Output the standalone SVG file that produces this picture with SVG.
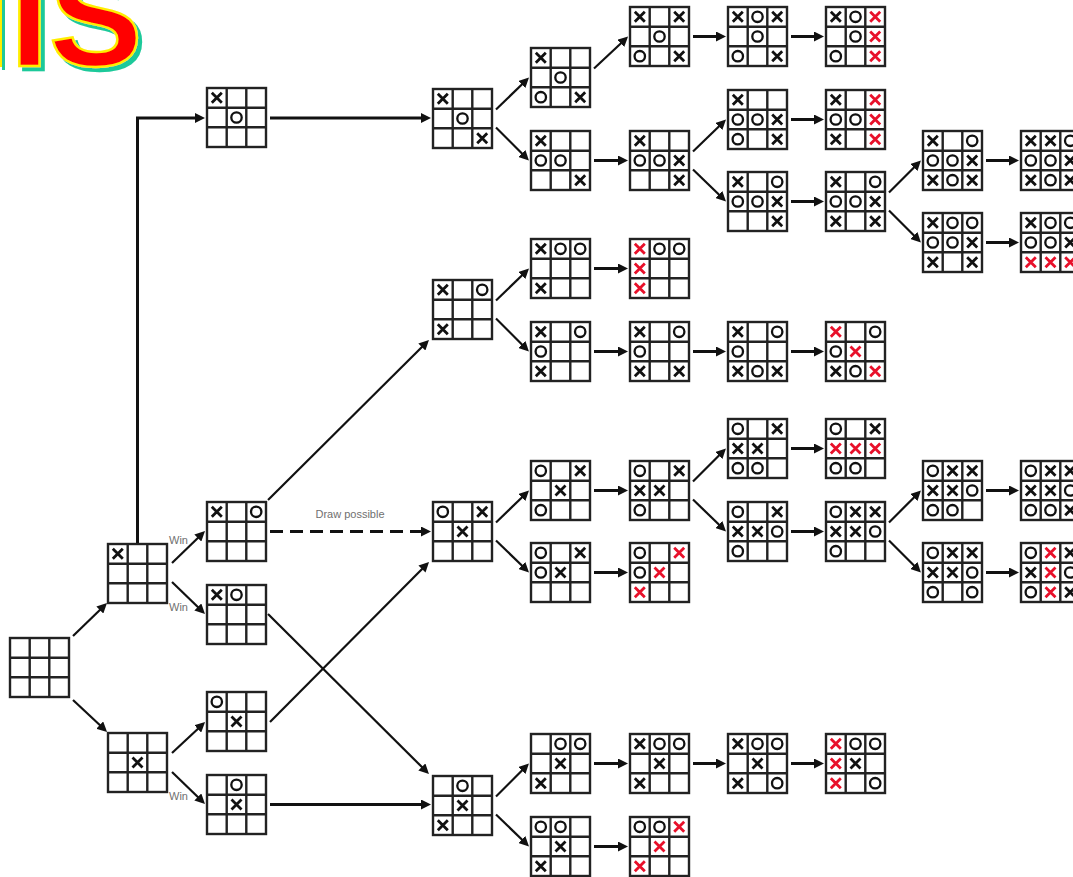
<svg xmlns="http://www.w3.org/2000/svg" xmlns:xlink="http://www.w3.org/1999/xlink" width="1073" height="877" viewBox="0 0 1073 877">
<style>
.grid{stroke:#222;stroke-width:2.4}
.bd{stroke:#111;fill:none}
.bd use.r{stroke:#e8102a}
.h{stroke:#111;stroke-width:3;fill:none;marker-end:url(#ah)}
.d{stroke:#111;stroke-width:2.2;fill:none;marker-end:url(#ah)}
.dash{stroke-dasharray:13,7}
.lbl{font-family:"Liberation Sans",Arial,sans-serif;font-size:11px;fill:#707070}
</style>
<defs>
<filter id="shadow" x="-10%" y="-10%" width="130%" height="130%">
<feOffset in="SourceAlpha" dx="4" dy="4" result="off"/>
<feFlood flood-color="#1fc99a"/>
<feComposite in2="off" operator="in" result="sh"/>
<feMerge><feMergeNode in="sh"/><feMergeNode in="SourceGraphic"/></feMerge>
</filter>
<marker id="ah" markerUnits="userSpaceOnUse" markerWidth="10" markerHeight="10" viewBox="0 0 10 10" refX="4" refY="5" orient="auto"><path d="M0,0L10,5L0,10z" fill="#111" stroke="none"/></marker>
<g id="grid" class="grid"><rect x="0" y="0" width="59" height="59" fill="#fff"/><path d="M19.7,0V59M39.3,0V59M0,19.7H59M0,39.3H59" fill="none"/></g>
<path id="X" d="M-5,-5L5,5M5,-5L-5,5" stroke-width="2.8" fill="none"/>
<circle id="O" r="5.2" stroke-width="2.3" fill="none"/>
</defs>
<rect width="1073" height="877" fill="#fff"/>
<g id="title" font-family="'Liberation Sans',Arial,sans-serif" font-weight="bold" font-size="140">
<rect x="2" y="-5" width="3" height="75" fill="#1fc99a"/>
<rect x="0" y="-5" width="2" height="72" fill="#ffee00"/>
<text x="10" y="66" fill="#ff0000" stroke="#ffee00" stroke-width="2.5" filter="url(#shadow)">IS</text>
</g>
<g id="connectors">
<path class="h" d="M137.5,543V118H199"/>
<path class="h" d="M270,118H425"/>
<path class="h" d="M270,804.5H425"/>
<path class="h dash" d="M270,531.5H425"/>
<path class="d" d="M73,636L102.7,607.2"/>
<path class="d" d="M73,700L102.7,727.8"/>
<path class="d" d="M172,563L200.7,535.2"/>
<path class="d" d="M172,582L200.7,609.8"/>
<path class="d" d="M172,753L200.7,726.2"/>
<path class="d" d="M172,772L200.7,799.8"/>
<path class="d" d="M268,500L424.7,344.2"/>
<path class="d" d="M268,614L424.7,769.8"/>
<path class="d" d="M270,722L424.8,566.2"/>
<path class="d" d="M496,109.5L524.7,81.7"/>
<path class="d" d="M496,127.5L524.7,156.3"/>
<path class="d" d="M496,300.5L524.7,272.7"/>
<path class="d" d="M496,318.5L524.7,347.3"/>
<path class="d" d="M496,522.5L524.7,494.7"/>
<path class="d" d="M496,540.5L524.7,568.3"/>
<path class="d" d="M496,796.5L524.7,767.7"/>
<path class="d" d="M496,814.5L524.7,842.3"/>
<path class="d" d="M594,68.5L623.7,40.7"/>
<path class="d" d="M693,151.5L721.7,123.7"/>
<path class="d" d="M693,169.5L721.7,197.3"/>
<path class="d" d="M693,481.5L721.7,452.7"/>
<path class="d" d="M693,499.5L721.7,527.3"/>
<path class="d" d="M889,192.5L916.7,164.7"/>
<path class="d" d="M889,210.5L916.7,238.3"/>
<path class="d" d="M889,522.5L916.7,494.7"/>
<path class="d" d="M889,540.5L916.7,568.3"/>
<path class="h" d="M594,160.5H622"/>
<path class="h" d="M594,268.5H622"/>
<path class="h" d="M594,351.5H622"/>
<path class="h" d="M594,490.5H622"/>
<path class="h" d="M594,572.5H622"/>
<path class="h" d="M594,763.5H622"/>
<path class="h" d="M594,846.5H622"/>
<path class="h" d="M693,36.5H720"/>
<path class="h" d="M693,351.5H720"/>
<path class="h" d="M693,763.5H720"/>
<path class="h" d="M791,36.5H818"/>
<path class="h" d="M791,119.5H818"/>
<path class="h" d="M791,201.5H818"/>
<path class="h" d="M791,351.5H818"/>
<path class="h" d="M791,448.5H818"/>
<path class="h" d="M791,531.5H818"/>
<path class="h" d="M791,763.5H818"/>
<path class="h" d="M986,160.5H1013"/>
<path class="h" d="M986,242.5H1013"/>
<path class="h" d="M986,490.5H1013"/>
<path class="h" d="M986,572.5H1013"/>
</g>
<g id="labels" class="lbl">
<text x="169" y="544">Win</text>
<text x="169" y="611">Win</text>
<text x="169" y="800">Win</text>
<text x="350" y="518" text-anchor="middle">Draw possible</text>
</g>
<g id="n0" class="bd" transform="translate(10,638)"><use href="#grid"/></g>
<g id="n1a" class="bd" transform="translate(108,544)"><use href="#grid"/><use href="#X" x="9.8" y="9.8"/></g>
<g id="n1b" class="bd" transform="translate(108,733)"><use href="#grid"/><use href="#X" x="29.5" y="29.5"/></g>
<g id="n2top" class="bd" transform="translate(207,88)"><use href="#grid"/><use href="#X" x="9.8" y="9.8"/><use href="#O" x="29.5" y="29.5"/></g>
<g id="n2a" class="bd" transform="translate(207,502)"><use href="#grid"/><use href="#X" x="9.8" y="9.8"/><use href="#O" x="49.2" y="9.8"/></g>
<g id="n2b" class="bd" transform="translate(207,585)"><use href="#grid"/><use href="#X" x="9.8" y="9.8"/><use href="#O" x="29.5" y="9.8"/></g>
<g id="n2c" class="bd" transform="translate(207,692)"><use href="#grid"/><use href="#O" x="9.8" y="9.8"/><use href="#X" x="29.5" y="29.5"/></g>
<g id="n2d" class="bd" transform="translate(207,775)"><use href="#grid"/><use href="#O" x="29.5" y="9.8"/><use href="#X" x="29.5" y="29.5"/></g>
<g id="n3a" class="bd" transform="translate(433,89)"><use href="#grid"/><use href="#X" x="9.8" y="9.8"/><use href="#O" x="29.5" y="29.5"/><use href="#X" x="49.2" y="49.2"/></g>
<g id="n3b" class="bd" transform="translate(433,280)"><use href="#grid"/><use href="#X" x="9.8" y="9.8"/><use href="#O" x="49.2" y="9.8"/><use href="#X" x="9.8" y="49.2"/></g>
<g id="n3c" class="bd" transform="translate(433,502)"><use href="#grid"/><use href="#O" x="9.8" y="9.8"/><use href="#X" x="49.2" y="9.8"/><use href="#X" x="29.5" y="29.5"/></g>
<g id="n3d" class="bd" transform="translate(433,776)"><use href="#grid"/><use href="#O" x="29.5" y="9.8"/><use href="#X" x="29.5" y="29.5"/><use href="#X" x="9.8" y="49.2"/></g>
<g id="n4a" class="bd" transform="translate(531,48)"><use href="#grid"/><use href="#X" x="9.8" y="9.8"/><use href="#O" x="29.5" y="29.5"/><use href="#O" x="9.8" y="49.2"/><use href="#X" x="49.2" y="49.2"/></g>
<g id="n4b" class="bd" transform="translate(531,131)"><use href="#grid"/><use href="#X" x="9.8" y="9.8"/><use href="#O" x="9.8" y="29.5"/><use href="#O" x="29.5" y="29.5"/><use href="#X" x="49.2" y="49.2"/></g>
<g id="n4c" class="bd" transform="translate(531,239)"><use href="#grid"/><use href="#X" x="9.8" y="9.8"/><use href="#O" x="29.5" y="9.8"/><use href="#O" x="49.2" y="9.8"/><use href="#X" x="9.8" y="49.2"/></g>
<g id="n4d" class="bd" transform="translate(531,322)"><use href="#grid"/><use href="#X" x="9.8" y="9.8"/><use href="#O" x="49.2" y="9.8"/><use href="#O" x="9.8" y="29.5"/><use href="#X" x="9.8" y="49.2"/></g>
<g id="n4e" class="bd" transform="translate(531,461)"><use href="#grid"/><use href="#O" x="9.8" y="9.8"/><use href="#X" x="49.2" y="9.8"/><use href="#X" x="29.5" y="29.5"/><use href="#O" x="9.8" y="49.2"/></g>
<g id="n4f" class="bd" transform="translate(531,543)"><use href="#grid"/><use href="#O" x="9.8" y="9.8"/><use href="#X" x="49.2" y="9.8"/><use href="#O" x="9.8" y="29.5"/><use href="#X" x="29.5" y="29.5"/></g>
<g id="n4g" class="bd" transform="translate(531,734)"><use href="#grid"/><use href="#O" x="29.5" y="9.8"/><use href="#O" x="49.2" y="9.8"/><use href="#X" x="29.5" y="29.5"/><use href="#X" x="9.8" y="49.2"/></g>
<g id="n4h" class="bd" transform="translate(531,817)"><use href="#grid"/><use href="#O" x="9.8" y="9.8"/><use href="#O" x="29.5" y="9.8"/><use href="#X" x="29.5" y="29.5"/><use href="#X" x="9.8" y="49.2"/></g>
<g id="n5a" class="bd" transform="translate(630,7)"><use href="#grid"/><use href="#X" x="9.8" y="9.8"/><use href="#X" x="49.2" y="9.8"/><use href="#O" x="29.5" y="29.5"/><use href="#O" x="9.8" y="49.2"/><use href="#X" x="49.2" y="49.2"/></g>
<g id="n5b" class="bd" transform="translate(630,131)"><use href="#grid"/><use href="#X" x="9.8" y="9.8"/><use href="#O" x="9.8" y="29.5"/><use href="#O" x="29.5" y="29.5"/><use href="#X" x="49.2" y="29.5"/><use href="#X" x="49.2" y="49.2"/></g>
<g id="n5c" class="bd" transform="translate(630,239)"><use href="#grid"/><use href="#X" class="r" x="9.8" y="9.8"/><use href="#O" x="29.5" y="9.8"/><use href="#O" x="49.2" y="9.8"/><use href="#X" class="r" x="9.8" y="29.5"/><use href="#X" class="r" x="9.8" y="49.2"/></g>
<g id="n5d" class="bd" transform="translate(630,322)"><use href="#grid"/><use href="#X" x="9.8" y="9.8"/><use href="#O" x="49.2" y="9.8"/><use href="#O" x="9.8" y="29.5"/><use href="#X" x="9.8" y="49.2"/><use href="#X" x="49.2" y="49.2"/></g>
<g id="n5e" class="bd" transform="translate(630,461)"><use href="#grid"/><use href="#O" x="9.8" y="9.8"/><use href="#X" x="49.2" y="9.8"/><use href="#X" x="9.8" y="29.5"/><use href="#X" x="29.5" y="29.5"/><use href="#O" x="9.8" y="49.2"/></g>
<g id="n5f" class="bd" transform="translate(630,543)"><use href="#grid"/><use href="#O" x="9.8" y="9.8"/><use href="#X" class="r" x="49.2" y="9.8"/><use href="#O" x="9.8" y="29.5"/><use href="#X" class="r" x="29.5" y="29.5"/><use href="#X" class="r" x="9.8" y="49.2"/></g>
<g id="n5g" class="bd" transform="translate(630,734)"><use href="#grid"/><use href="#X" x="9.8" y="9.8"/><use href="#O" x="29.5" y="9.8"/><use href="#O" x="49.2" y="9.8"/><use href="#X" x="29.5" y="29.5"/><use href="#X" x="9.8" y="49.2"/></g>
<g id="n5h" class="bd" transform="translate(630,817)"><use href="#grid"/><use href="#O" x="9.8" y="9.8"/><use href="#O" x="29.5" y="9.8"/><use href="#X" class="r" x="49.2" y="9.8"/><use href="#X" class="r" x="29.5" y="29.5"/><use href="#X" class="r" x="9.8" y="49.2"/></g>
<g id="n6a" class="bd" transform="translate(728,7)"><use href="#grid"/><use href="#X" x="9.8" y="9.8"/><use href="#O" x="29.5" y="9.8"/><use href="#X" x="49.2" y="9.8"/><use href="#O" x="29.5" y="29.5"/><use href="#O" x="9.8" y="49.2"/><use href="#X" x="49.2" y="49.2"/></g>
<g id="n6b" class="bd" transform="translate(728,90)"><use href="#grid"/><use href="#X" x="9.8" y="9.8"/><use href="#O" x="9.8" y="29.5"/><use href="#O" x="29.5" y="29.5"/><use href="#X" x="49.2" y="29.5"/><use href="#O" x="9.8" y="49.2"/><use href="#X" x="49.2" y="49.2"/></g>
<g id="n6c" class="bd" transform="translate(728,172)"><use href="#grid"/><use href="#X" x="9.8" y="9.8"/><use href="#O" x="49.2" y="9.8"/><use href="#O" x="9.8" y="29.5"/><use href="#O" x="29.5" y="29.5"/><use href="#X" x="49.2" y="29.5"/><use href="#X" x="49.2" y="49.2"/></g>
<g id="n6d" class="bd" transform="translate(728,322)"><use href="#grid"/><use href="#X" x="9.8" y="9.8"/><use href="#O" x="49.2" y="9.8"/><use href="#O" x="9.8" y="29.5"/><use href="#X" x="9.8" y="49.2"/><use href="#O" x="29.5" y="49.2"/><use href="#X" x="49.2" y="49.2"/></g>
<g id="n6e" class="bd" transform="translate(728,419)"><use href="#grid"/><use href="#O" x="9.8" y="9.8"/><use href="#X" x="49.2" y="9.8"/><use href="#X" x="9.8" y="29.5"/><use href="#X" x="29.5" y="29.5"/><use href="#O" x="9.8" y="49.2"/><use href="#O" x="29.5" y="49.2"/></g>
<g id="n6f" class="bd" transform="translate(728,502)"><use href="#grid"/><use href="#O" x="9.8" y="9.8"/><use href="#X" x="49.2" y="9.8"/><use href="#X" x="9.8" y="29.5"/><use href="#X" x="29.5" y="29.5"/><use href="#O" x="49.2" y="29.5"/><use href="#O" x="9.8" y="49.2"/></g>
<g id="n6g" class="bd" transform="translate(728,734)"><use href="#grid"/><use href="#X" x="9.8" y="9.8"/><use href="#O" x="29.5" y="9.8"/><use href="#O" x="49.2" y="9.8"/><use href="#X" x="29.5" y="29.5"/><use href="#X" x="9.8" y="49.2"/><use href="#O" x="49.2" y="49.2"/></g>
<g id="n7a" class="bd" transform="translate(826,7)"><use href="#grid"/><use href="#X" x="9.8" y="9.8"/><use href="#O" x="29.5" y="9.8"/><use href="#X" class="r" x="49.2" y="9.8"/><use href="#O" x="29.5" y="29.5"/><use href="#X" class="r" x="49.2" y="29.5"/><use href="#O" x="9.8" y="49.2"/><use href="#X" class="r" x="49.2" y="49.2"/></g>
<g id="n7b" class="bd" transform="translate(826,90)"><use href="#grid"/><use href="#X" x="9.8" y="9.8"/><use href="#X" class="r" x="49.2" y="9.8"/><use href="#O" x="9.8" y="29.5"/><use href="#O" x="29.5" y="29.5"/><use href="#X" class="r" x="49.2" y="29.5"/><use href="#X" x="9.8" y="49.2"/><use href="#X" class="r" x="49.2" y="49.2"/></g>
<g id="n7c" class="bd" transform="translate(826,172)"><use href="#grid"/><use href="#X" x="9.8" y="9.8"/><use href="#O" x="49.2" y="9.8"/><use href="#O" x="9.8" y="29.5"/><use href="#O" x="29.5" y="29.5"/><use href="#X" x="49.2" y="29.5"/><use href="#X" x="9.8" y="49.2"/><use href="#X" x="49.2" y="49.2"/></g>
<g id="n7d" class="bd" transform="translate(826,322)"><use href="#grid"/><use href="#X" class="r" x="9.8" y="9.8"/><use href="#O" x="49.2" y="9.8"/><use href="#O" x="9.8" y="29.5"/><use href="#X" class="r" x="29.5" y="29.5"/><use href="#X" x="9.8" y="49.2"/><use href="#O" x="29.5" y="49.2"/><use href="#X" class="r" x="49.2" y="49.2"/></g>
<g id="n7e" class="bd" transform="translate(826,419)"><use href="#grid"/><use href="#O" x="9.8" y="9.8"/><use href="#X" x="49.2" y="9.8"/><use href="#X" class="r" x="9.8" y="29.5"/><use href="#X" class="r" x="29.5" y="29.5"/><use href="#X" class="r" x="49.2" y="29.5"/><use href="#O" x="9.8" y="49.2"/><use href="#O" x="29.5" y="49.2"/></g>
<g id="n7f" class="bd" transform="translate(826,502)"><use href="#grid"/><use href="#O" x="9.8" y="9.8"/><use href="#X" x="29.5" y="9.8"/><use href="#X" x="49.2" y="9.8"/><use href="#X" x="9.8" y="29.5"/><use href="#X" x="29.5" y="29.5"/><use href="#O" x="49.2" y="29.5"/><use href="#O" x="9.8" y="49.2"/></g>
<g id="n7g" class="bd" transform="translate(826,734)"><use href="#grid"/><use href="#X" class="r" x="9.8" y="9.8"/><use href="#O" x="29.5" y="9.8"/><use href="#O" x="49.2" y="9.8"/><use href="#X" class="r" x="9.8" y="29.5"/><use href="#X" x="29.5" y="29.5"/><use href="#X" class="r" x="9.8" y="49.2"/><use href="#O" x="49.2" y="49.2"/></g>
<g id="n8a" class="bd" transform="translate(923,131)"><use href="#grid"/><use href="#X" x="9.8" y="9.8"/><use href="#O" x="49.2" y="9.8"/><use href="#O" x="9.8" y="29.5"/><use href="#O" x="29.5" y="29.5"/><use href="#X" x="49.2" y="29.5"/><use href="#X" x="9.8" y="49.2"/><use href="#O" x="29.5" y="49.2"/><use href="#X" x="49.2" y="49.2"/></g>
<g id="n8b" class="bd" transform="translate(923,213)"><use href="#grid"/><use href="#X" x="9.8" y="9.8"/><use href="#O" x="29.5" y="9.8"/><use href="#O" x="49.2" y="9.8"/><use href="#O" x="9.8" y="29.5"/><use href="#O" x="29.5" y="29.5"/><use href="#X" x="49.2" y="29.5"/><use href="#X" x="9.8" y="49.2"/><use href="#X" x="49.2" y="49.2"/></g>
<g id="n8c" class="bd" transform="translate(923,461)"><use href="#grid"/><use href="#O" x="9.8" y="9.8"/><use href="#X" x="29.5" y="9.8"/><use href="#X" x="49.2" y="9.8"/><use href="#X" x="9.8" y="29.5"/><use href="#X" x="29.5" y="29.5"/><use href="#O" x="49.2" y="29.5"/><use href="#O" x="9.8" y="49.2"/><use href="#O" x="29.5" y="49.2"/></g>
<g id="n8d" class="bd" transform="translate(923,543)"><use href="#grid"/><use href="#O" x="9.8" y="9.8"/><use href="#X" x="29.5" y="9.8"/><use href="#X" x="49.2" y="9.8"/><use href="#X" x="9.8" y="29.5"/><use href="#X" x="29.5" y="29.5"/><use href="#O" x="49.2" y="29.5"/><use href="#O" x="9.8" y="49.2"/><use href="#O" x="49.2" y="49.2"/></g>
<g id="n9a" class="bd" transform="translate(1021,131)"><use href="#grid"/><use href="#X" x="9.8" y="9.8"/><use href="#X" x="29.5" y="9.8"/><use href="#O" x="49.2" y="9.8"/><use href="#O" x="9.8" y="29.5"/><use href="#O" x="29.5" y="29.5"/><use href="#X" x="49.2" y="29.5"/><use href="#X" x="9.8" y="49.2"/><use href="#O" x="29.5" y="49.2"/><use href="#X" x="49.2" y="49.2"/></g>
<g id="n9b" class="bd" transform="translate(1021,213)"><use href="#grid"/><use href="#X" x="9.8" y="9.8"/><use href="#O" x="29.5" y="9.8"/><use href="#O" x="49.2" y="9.8"/><use href="#O" x="9.8" y="29.5"/><use href="#O" x="29.5" y="29.5"/><use href="#X" x="49.2" y="29.5"/><use href="#X" class="r" x="9.8" y="49.2"/><use href="#X" class="r" x="29.5" y="49.2"/><use href="#X" class="r" x="49.2" y="49.2"/></g>
<g id="n9c" class="bd" transform="translate(1021,461)"><use href="#grid"/><use href="#O" x="9.8" y="9.8"/><use href="#X" x="29.5" y="9.8"/><use href="#X" x="49.2" y="9.8"/><use href="#X" x="9.8" y="29.5"/><use href="#X" x="29.5" y="29.5"/><use href="#O" x="49.2" y="29.5"/><use href="#O" x="9.8" y="49.2"/><use href="#O" x="29.5" y="49.2"/><use href="#X" x="49.2" y="49.2"/></g>
<g id="n9d" class="bd" transform="translate(1021,543)"><use href="#grid"/><use href="#O" x="9.8" y="9.8"/><use href="#X" class="r" x="29.5" y="9.8"/><use href="#X" x="49.2" y="9.8"/><use href="#X" x="9.8" y="29.5"/><use href="#X" class="r" x="29.5" y="29.5"/><use href="#O" x="49.2" y="29.5"/><use href="#O" x="9.8" y="49.2"/><use href="#X" class="r" x="29.5" y="49.2"/><use href="#X" x="49.2" y="49.2"/></g>
</svg>
